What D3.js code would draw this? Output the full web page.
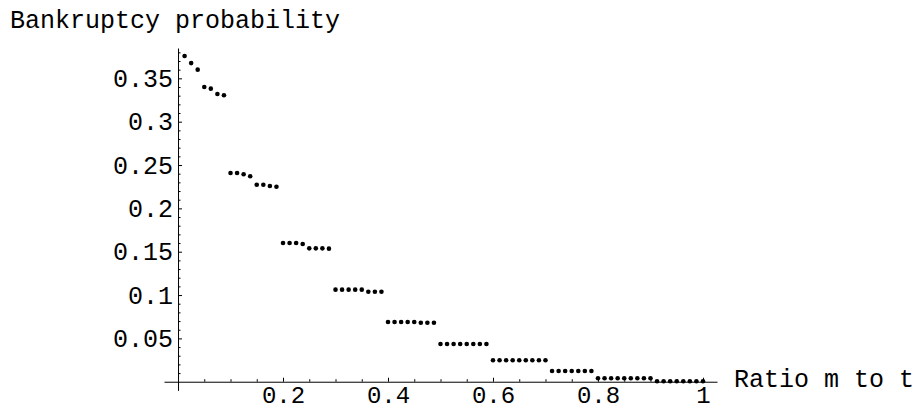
<!DOCTYPE html>
<html>
<head>
<meta charset="utf-8">
<script src="https://cdn.jsdelivr.net/npm/d3@7"></script>
<style>
  html, body { margin: 0; padding: 0; background: #fff; }
  svg { display: block; }
  text { font-family: "Liberation Mono", "DejaVu Sans Mono", monospace; fill: #000; }
</style>
</head>
<body>
<script>
// ratio m to t (80 steps)
let ratio = [
  0.0125, 0.025, 0.0375, 0.05, 0.0625, 0.075, 0.0875, 0.1, 0.1125, 0.125, 0.1375, 0.15, 0.1625, 0.175, 0.1875, 0.2,
  0.2125, 0.225, 0.2375, 0.25, 0.2625, 0.275, 0.2875, 0.3, 0.3125, 0.325, 0.3375, 0.35, 0.3625, 0.375, 0.3875, 0.4,
  0.4125, 0.425, 0.4375, 0.45, 0.4625, 0.475, 0.4875, 0.5, 0.5125, 0.525, 0.5375, 0.55, 0.5625, 0.575, 0.5875, 0.6,
  0.6125, 0.625, 0.6375, 0.65, 0.6625, 0.675, 0.6875, 0.7, 0.7125, 0.725, 0.7375, 0.75, 0.7625, 0.775, 0.7875, 0.8,
  0.8125, 0.825, 0.8375, 0.85, 0.8625, 0.875, 0.8875, 0.9, 0.9125, 0.925, 0.9375, 0.95, 0.9625, 0.975, 0.9875, 1
];

// bankruptcy probability
let probability = [
  0.3757, 0.3676, 0.3600, 0.3400, 0.3381, 0.3320, 0.3305,
  0.2408, 0.2408, 0.2393, 0.2370, 0.2273, 0.2273, 0.2258, 0.2250,
  0.1600, 0.1600, 0.1600, 0.1589, 0.1539, 0.1539, 0.1539, 0.1535,
  0.1062, 0.1062, 0.1062, 0.1062, 0.1062, 0.1038, 0.1038, 0.1038,
  0.0689, 0.0689, 0.0689, 0.0689, 0.0689, 0.0681, 0.0681, 0.0681,
  0.0435, 0.0435, 0.0435, 0.0435, 0.0435, 0.0435, 0.0435, 0.0435,
  0.0247, 0.0247, 0.0247, 0.0247, 0.0247, 0.0247, 0.0247, 0.0247, 0.0247,
  0.0123, 0.0123, 0.0123, 0.0123, 0.0123, 0.0123, 0.0123,
  0.0040, 0.0040, 0.0040, 0.0040, 0.0040, 0.0040, 0.0040, 0.0040, 0.0040,
  0.0005, 0.0005, 0.0005, 0.0005, 0.0005, 0.0005, 0.0005, 0.0005
];

let xMajor = [0.2, 0.4, 0.6, 0.8, 1];
let xMinor = [0.05, 0.1, 0.15, 0.25, 0.3, 0.35, 0.45, 0.5, 0.55, 0.65, 0.7, 0.75, 0.85, 0.9, 0.95];
let xLabels = ["0.2", "0.4", "0.6", "0.8", "1"];

let yMajor = [0.05, 0.1, 0.15, 0.2, 0.25, 0.3, 0.35];
let yLabels = ["0.05", "0.1", "0.15", "0.2", "0.25", "0.3", "0.35"];
let yMinor = [0.01, 0.02, 0.03, 0.04, 0.06, 0.07, 0.08, 0.09, 0.11, 0.12, 0.13, 0.14,
  0.16, 0.17, 0.18, 0.19, 0.21, 0.22, 0.23, 0.24, 0.26, 0.27, 0.28, 0.29,
  0.31, 0.32, 0.33, 0.34, 0.36, 0.37, 0.38];

let data = ratio.map(function(r, i){ return { x: r, y: probability[i] }; });

let width = 920,
    height = 411,
    fontSize = 25;

let svg = d3.select("body")
            .append("svg")
            .attr("width", width)
            .attr("height", height);

let x = d3.scaleLinear().domain([-0.0267, 1.0267]).range([164, 717]);
let y = d3.scaleLinear().domain([-0.01, 0.385]).range([390.4, 48]);

// x axis: ticks point up into the plot
svg.append("g")
   .attr("class", "x-axis")
   .attr("transform", "translate(0," + y(0) + ")")
   .call(d3.axisBottom(x)
     .tickValues(xMajor)
     .tickSize(-4)
     .tickSizeOuter(0)
     .tickPadding(4)
     .tickFormat(function(d, i){ return xLabels[i]; }));

svg.append("g")
   .attr("transform", "translate(0," + y(0) + ")")
   .call(d3.axisBottom(x).tickValues(xMinor).tickSize(-2.5).tickSizeOuter(0).tickFormat(""))
   .select(".domain").remove();

// y axis: ticks point right
svg.append("g")
   .attr("class", "y-axis")
   .attr("transform", "translate(" + x(0) + ",0)")
   .call(d3.axisLeft(y)
     .tickValues(yMajor)
     .tickSize(-4)
     .tickSizeOuter(0)
     .tickPadding(5)
     .tickFormat(function(d, i){ return yLabels[i]; }));

svg.append("g")
   .attr("transform", "translate(" + x(0) + ",0)")
   .call(d3.axisLeft(y).tickValues(yMinor).tickSize(-2.5).tickSizeOuter(0).tickFormat(""))
   .select(".domain").remove();

svg.selectAll(".domain, .tick line")
   .attr("stroke", "#000")
   .attr("stroke-width", 1);

svg.selectAll(".tick text")
   .attr("font-family", "Liberation Mono, monospace")
   .attr("font-size", fontSize)
   .attr("fill", "#000");

// keep the bottom labels inside the picture
svg.selectAll(".x-axis .tick text")
   .attr("font-size", 24);

// axis titles
svg.append("text")
   .attr("x", 10)
   .attr("y", 28)
   .attr("font-size", fontSize)
   .text("Bankruptcy probability");

svg.append("text")
   .attr("x", 734)
   .attr("y", 387)
   .attr("font-size", fontSize)
   .text("Ratio m to t");

// points
svg.append("g")
   .selectAll("circle")
   .data(data)
   .enter().append("circle")
   .attr("cx", function(d){ return x(d.x); })
   .attr("cy", function(d){ return y(d.y); })
   .attr("r", 2.3)
   .attr("fill", "#000");
</script>
</body>
</html>
